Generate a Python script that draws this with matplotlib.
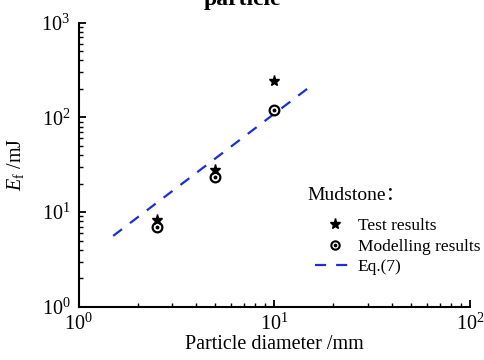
import matplotlib
matplotlib.use("Agg")
import matplotlib.pyplot as plt
from matplotlib.lines import Line2D
from matplotlib.ticker import LogLocator, NullFormatter

plt.rcParams['font.family'] = ['Liberation Serif', 'Noto Sans CJK SC']
plt.rcParams['mathtext.fontset'] = 'custom'
plt.rcParams['mathtext.rm'] = 'Liberation Serif'
plt.rcParams['mathtext.it'] = 'Liberation Serif:italic'

diameter = [2.5, 5, 10]
test_results = [8.3, 28, 245]
model_results = [6.9, 23.7, 120]
eq_x = [1.5, 15]
eq_y = [5.6, 206]

fig = plt.figure(figsize=(4.84, 3.6), dpi=100)
ax = fig.add_axes([0.1626, 0.148, 0.8084, 0.789])

ax.plot(eq_x, eq_y, color='#1a2fd6', lw=1.6, ls=(0, (5, 4.5)))
ax.plot(diameter, test_results, ls='none', marker='*', ms=8, color='black')
ax.plot(diameter, model_results, ls='none', marker='o', ms=7, mfc='none',
        mec='black', mew=1.6)
ax.plot(diameter, model_results, ls='none', marker='o', ms=1.8, color='black')

ax.set_xscale('log')
ax.set_yscale('log')
ax.set_xlim(1, 100)
ax.set_ylim(1, 1000)

for s in ['top', 'right']:
    ax.spines[s].set_visible(False)
for s in ['left', 'bottom']:
    ax.spines[s].set_linewidth(1.5)

ax.xaxis.set_major_locator(LogLocator(base=10, numticks=10))
ax.yaxis.set_major_locator(LogLocator(base=10, numticks=10))
ax.xaxis.set_minor_locator(LogLocator(base=10, subs=range(2, 10), numticks=20))
ax.yaxis.set_minor_locator(LogLocator(base=10, subs=range(2, 10), numticks=20))
ax.xaxis.set_minor_formatter(NullFormatter())
ax.yaxis.set_minor_formatter(NullFormatter())
ax.tick_params(which='major', direction='in', length=5, width=1.3, labelsize=14.5)
ax.tick_params(axis='x', which='major', pad=5)
ax.tick_params(axis='y', which='major', pad=6)
ax.tick_params(which='minor', direction='in', length=3, width=1.0)

ax.set_xlabel('Particle diameter /mm', fontsize=14.5, labelpad=0)
ax.set_ylabel(r'$E_{\rm f}$ /mJ', fontsize=14.5, labelpad=11)

fig.text(307 / 484, 1 - 196 / 360, 'Mudstone\uff1a', ha='left', va='center', fontsize=14)

h_test = Line2D([], [], ls='none', marker='*', ms=8, color='black')
h_mod = (Line2D([], [], ls='none', marker='o', ms=6, mfc='none', mec='black', mew=1.5),
         Line2D([], [], ls='none', marker='o', ms=1.6, color='black'))
h_eq = Line2D([], [], color='#1a2fd6', lw=1.6, ls=(0, (5, 4.5)))
leg = ax.legend([h_test, h_mod, h_eq], ['Test results', 'Modelling results', 'Eq.(7)'],
                loc='upper left', bbox_to_anchor=(315 / 484, 1 - 218 / 360),
                bbox_transform=fig.transFigure, borderaxespad=0, borderpad=0,
                frameon=False, fontsize=12.5, handlelength=2.3,
                handletextpad=0.15, labelspacing=0.25)

fig.text(0.5, 0.986, 'particle', ha='center', va='baseline', fontsize=17, fontweight='bold')

fig.savefig('out.png', dpi=100)
